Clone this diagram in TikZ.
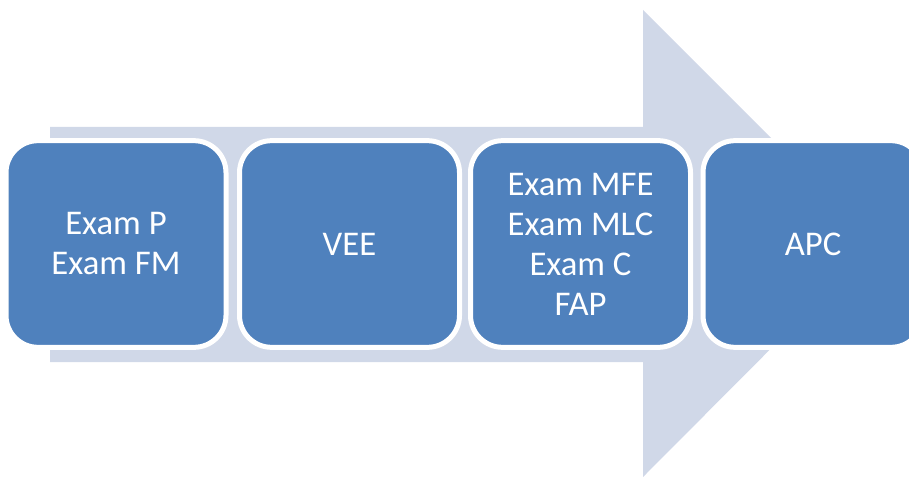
\documentclass[tikz,border=0pt]{standalone}
\usepackage{fontspec}
\setmainfont{Carlito}
\definecolor{stepblue}{HTML}{4F81BD}
\definecolor{arrowgrey}{HTML}{D0D8E8}

\begin{document}
\begin{tikzpicture}[x=0.75pt,y=-0.75pt,
    stage/.style={fill=stepblue,draw=white,line width=3.75pt,rounded corners=24pt,
      minimum width=165pt,minimum height=155pt,align=center,text=white,
      font=\fontsize{26}{30}\selectfont,inner sep=0pt}]
      \useasboundingbox (0,0) rectangle (909,477);
      % big arrow in the back
      \fill[arrowgrey] (50,127) -- (643,127) -- (643,10) -- (876,243)
        -- (643,477) -- (643,362) -- (50,362) -- cycle;
      % the four stages
      \node[stage] (exams)  at (116,244) {Exam P\\Exam FM};
      \node[stage] (vee)    at (349.5,244) {VEE};
      \node[stage] (upper)  at (580.5,244) {Exam MFE\\Exam MLC\\Exam C\\FAP};
      \node[stage] (apc)    at (813,244) {APC};
     \end{tikzpicture}
\end{document}
